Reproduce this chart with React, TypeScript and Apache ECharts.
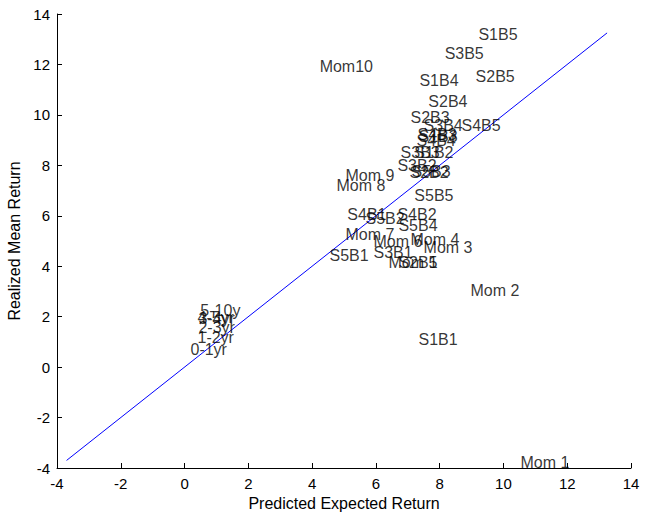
import React, { useEffect, useRef } from "react";
import * as echarts from "echarts";

const pointLabels = [
  "S1B5", "S3B5", "S1B4", "S2B5", "Mom10", "S2B4", "S2B3", "S3B4", "S4B5", "S4B3",
  "S4B4", "S1B3", "S3B3", "S1B2", "S3B2", "S2B2", "S5B3", "Mom 9", "Mom 8", "S5B5",
  "S4B1", "S5B2", "S4B2", "S5B4", "Mom 7", "Mom 6", "Mom 4", "S3B1", "Mom 5", "S2B1",
  "Mom 3", "S5B1", "Mom 2", "S1B1", "Mom 1",
  "5-10y", "4-5yr", "3-4yr", "2-3yr", "1-2yr", "0-1yr",
];
const predicted = [
  9.2, 8.14, 7.35, 9.11, 4.22, 7.63, 7.07, 7.48, 8.67, 7.29,
  7.26, 7.32, 6.76, 7.19, 6.66, 7.04, 7.1, 5.03, 4.75, 7.19,
  5.09, 5.66, 6.66, 6.69, 5.03, 5.91, 7.07, 5.91, 6.38, 6.69,
  7.48, 4.53, 8.95, 7.32, 10.52,
  0.48, 0.39, 0.42, 0.42, 0.39, 0.17,
];
const realized = [
  13.17, 12.45, 11.38, 11.54, 11.9, 10.55, 9.88, 9.56, 9.56, 9.24,
  9.0, 9.16, 8.49, 8.49, 8.01, 7.7, 7.74, 7.58, 7.22, 6.82,
  6.07, 5.91, 6.07, 5.63, 5.24, 5.0, 5.04, 4.56, 4.13, 4.13,
  4.76, 4.44, 3.02, 1.11, -3.8,
  2.26, 1.97, 1.93, 1.59, 1.19, 0.68,
];
const fitX = [-3.7, 13.25];
const fitY = [-3.7, 13.25];
const xTicks = [-4, 14, 2];
const yTicks = [-4, 14, 2];

export default function App() {
  const ref = useRef<HTMLDivElement>(null);
  useEffect(() => {
    if (!ref.current) return;
    const chart = echarts.init(ref.current, undefined, { renderer: "svg" });
    const font = "Liberation Sans, Arial, sans-serif";
    const axisCommon = {
      type: "value",
      axisLine: { show: true, onZero: false, lineStyle: { color: "#000", width: 1 } },
      axisTick: { show: true, inside: true, length: 5, lineStyle: { color: "#000" } },
      splitLine: { show: false },
      nameLocation: "middle",
      nameTextStyle: { color: "#000", fontSize: 16, fontFamily: font },
    };
    chart.setOption({
      animation: false,
      backgroundColor: "#fff",
      grid: { left: 57, right: 16, top: 14, bottom: 47, outerBoundsMode: "none" },
      xAxis: {
        ...axisCommon,
        min: xTicks[0],
        max: xTicks[1],
        interval: xTicks[2],
        name: "Predicted Expected Return",
        nameGap: 24,
        axisLabel: { color: "#000", fontSize: 15, fontFamily: font, margin: 8 },
      },
      yAxis: {
        ...axisCommon,
        min: yTicks[0],
        max: yTicks[1],
        interval: yTicks[2],
        name: "Realized Mean Return",
        nameGap: 32,
        axisLabel: { color: "#000", fontSize: 15, fontFamily: font, margin: 7 },
      },
      series: [
        {
          type: "line",
          data: fitX.map((x, i) => [x, fitY[i]]),
          symbol: "none",
          lineStyle: { color: "#0000ff", width: 1 },
          z: 1,
        },
        {
          type: "scatter",
          symbolSize: 1,
          itemStyle: { color: "rgba(0,0,0,0)" },
          data: pointLabels.map((n, i) => ({ name: n, value: [predicted[i], realized[i]] })),
          label: {
            show: true,
            position: "right",
            distance: 0,
            formatter: "{b}",
            color: "#000",
            fontSize: 16,
            fontFamily: font,
          },
          z: 2,
        },
      ],
    });
    return () => chart.dispose();
  }, []);
  return (
    <div
      ref={ref}
      style={{ position: "fixed", left: 0, top: 0, width: 647, height: 515 }}
    />
  );
}
